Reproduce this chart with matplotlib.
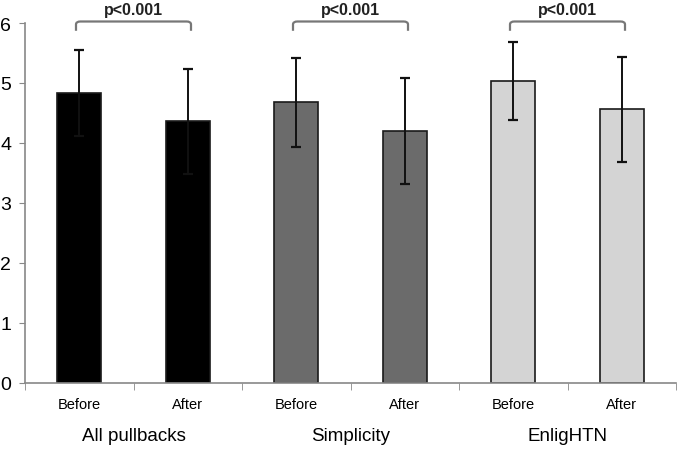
import matplotlib
matplotlib.use("Agg")
import matplotlib.pyplot as plt
from matplotlib.path import Path
from matplotlib.patches import PathPatch
import numpy as np

plt.rcParams['font.family'] = ['Liberation Sans', 'DejaVu Sans']

bar_labels = ["Before", "After", "Before", "After", "Before", "After"]
groups = ["All pullbacks", "Simplicity", "EnligHTN"]
means = [4.83, 4.36, 4.68, 4.20, 5.03, 4.56]
sds = [0.72, 0.88, 0.74, 0.88, 0.65, 0.88]
colors = ["#000000", "#000000", "#6b6b6b", "#6b6b6b", "#d4d4d4", "#d4d4d4"]
p_text = ["p<0.001", "p<0.001", "p<0.001"]

fig = plt.figure(figsize=(6.8, 4.52), dpi=100)
ax = fig.add_axes([25/680, 68/452, 651/680, 360/452])

x = np.arange(len(means))
ax.bar(x, means, width=0.41, color=colors, edgecolor="#1a1a1a", linewidth=1.2, zorder=2)
ax.errorbar(x, means, yerr=sds, fmt="none", ecolor="#111111", elinewidth=1.4,
            capsize=3.7, capthick=1.6, zorder=3)

ax.set_xlim(-0.5, len(means) - 0.5)
ax.set_ylim(0, 6)
ax.set_yticks(range(7))
ax.tick_params(axis="y", labelsize=14, length=4, color="#888888", pad=6)

ax.set_xticks(x)
ax.set_xticklabels(bar_labels, fontsize=10.5)
ax.tick_params(axis="x", which="major", length=0, pad=10)
ax.set_xticks(np.arange(-0.5, len(means)), minor=True)
ax.tick_params(axis="x", which="minor", length=5, color="#888888")

for s in ["top", "right"]:
    ax.spines[s].set_visible(False)
for s in ["left", "bottom"]:
    ax.spines[s].set_color("#888888")
    ax.spines[s].set_linewidth(1.2)

# group labels and significance brackets
for i, g in enumerate(groups):
    x0, x1 = 2 * i - 0.03, 2 * i + 1.03
    ax.text((x0 + x1) / 2, -0.88, g, ha="center", va="center", fontsize=13.5)
    top, low, r = 6.025, 5.87, 0.04
    verts = [(x0, low), (x0, top - 0.05), (x0, top), (x0 + r, top),
             (x1 - r, top), (x1, top), (x1, top - 0.05), (x1, low)]
    codes = [Path.MOVETO, Path.LINETO, Path.CURVE3, Path.CURVE3,
             Path.LINETO, Path.CURVE3, Path.CURVE3, Path.LINETO]
    ax.add_patch(PathPatch(Path(verts, codes), fill=False, edgecolor="#777777",
                           linewidth=1.6, clip_on=False))
    ax.text((x0 + x1) / 2, 6.22, p_text[i], ha="center", va="center",
            fontsize=11.5, fontweight="bold", color="#222222", clip_on=False)

fig.savefig("out.png", dpi=100)
